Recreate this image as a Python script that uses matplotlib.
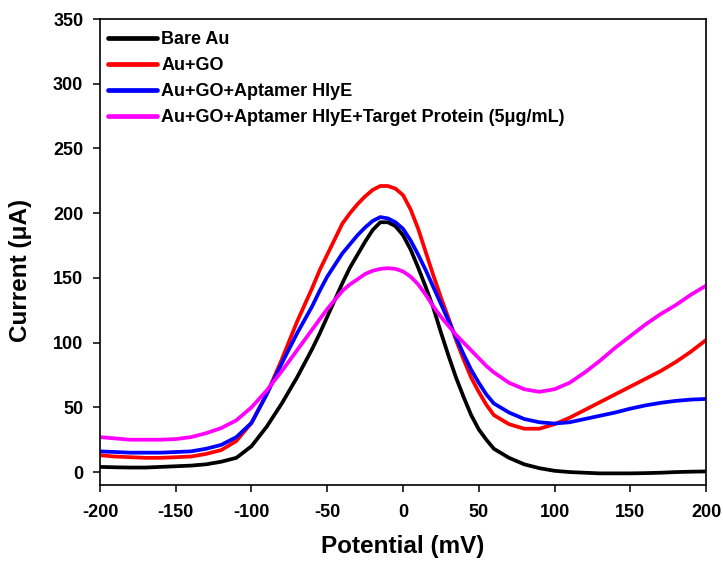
import matplotlib.pyplot as plt

plt.rcParams['font.family'] = ['Liberation Sans', 'DejaVu Sans']
plt.rcParams['font.weight'] = 'bold'
plt.rcParams['axes.unicode_minus'] = False

# Potential sweep (mV): coarse on the tails, finer around the peak
potential = (list(range(-200, -60, 10)) + list(range(-60, 61, 5))
             + list(range(70, 201, 10)))

# Current responses (uA)
bare_au = [4, 3.7, 3.5, 3.5, 4, 4.5, 5, 6, 8, 11, 20, 35, 53, 73,
           95, 107, 120, 133, 146, 158, 168, 178, 187, 193, 193, 190, 183,
           172, 158, 143, 127, 108, 90, 73, 58, 44, 33, 25, 18,
           11, 6, 3, 1, 0, -0.5, -1, -1, -1, -0.8, -0.5, 0, 0.3, 0.5]
au_go = [13, 12, 11.5, 11, 11, 11.5, 12, 14, 17, 24, 38, 60, 87, 116,
         142, 156, 168, 180, 192, 200, 207, 213, 218, 221, 221, 219, 214,
         203, 188, 170, 152, 135, 119, 102, 87, 73, 62, 52, 44,
         37, 33.5, 33.5, 37, 42, 48, 54, 60, 66, 72, 78, 85, 93, 102]
au_go_apt = [16, 15.5, 15, 15, 15, 15.5, 16, 18, 21, 27, 38, 60, 84, 107,
             128, 140, 151, 160, 169, 176, 183, 189, 194, 197, 196, 193, 188,
             179, 168, 156, 143, 130, 117, 104, 91, 79, 69, 60, 53,
             46, 41, 38.5, 37.5, 38.5, 41, 43.5, 46, 49, 51.5, 53.5, 55, 56, 56.5]
au_go_apt_target = [27, 26, 25, 25, 25, 25.5, 27, 30, 34, 40, 50, 63, 78, 94,
                    110, 118, 126, 133, 140, 145, 149, 153, 155.5, 157, 157.5, 157, 155,
                    151, 145, 137, 128, 120, 113, 106, 100, 94, 88, 82, 77,
                    69, 64, 62, 64, 69, 77, 86, 96, 105, 114, 122, 129, 137, 144]

labels = ['Bare Au', 'Au+GO', 'Au+GO+Aptamer HlyE',
          'Au+GO+Aptamer HlyE+Target Protein (5μg/mL)']
colors = ['black', 'red', 'blue', 'magenta']

fig = plt.figure(figsize=(7.23, 5.63), dpi=100)
ax = fig.add_axes([0.1383, 0.1385, 0.8382, 0.8277])

for y, lab, c in zip([bare_au, au_go, au_go_apt, au_go_apt_target], labels, colors):
    ax.plot(potential, y, color=c, lw=2.7, label=lab,
            solid_capstyle='round', solid_joinstyle='round')

ax.set_xlim(-200, 200)
ax.set_ylim(-10, 350)
ax.set_xticks(range(-200, 201, 50))
ax.set_yticks(range(0, 351, 50))
ax.tick_params(direction='out', length=5, width=1.1, labelsize=13)
ax.tick_params(axis='x', pad=9)
ax.tick_params(axis='y', pad=7)
for lab in ax.get_xticklabels() + ax.get_yticklabels():
    lab.set_fontweight('bold')
for s in ax.spines.values():
    s.set_linewidth(1.2)

ax.set_xlabel('Potential (mV)', fontsize=17.5, fontweight='bold')
ax.set_ylabel('Current (μA)', fontsize=17.5, fontweight='bold')
ax.xaxis.set_label_coords(0.5, -0.107)
ax.yaxis.set_label_coords(-0.112, 0.461)

leg = ax.legend(loc='upper left', bbox_to_anchor=(0.002, 0.99), frameon=False,
                handlelength=2.7, handletextpad=0.22, labelspacing=0.5,
                borderaxespad=0, prop={'weight': 'bold', 'size': 13})
for line in leg.get_lines():
    line.set_linewidth(3.4)

fig.savefig('out.png', dpi=100)
